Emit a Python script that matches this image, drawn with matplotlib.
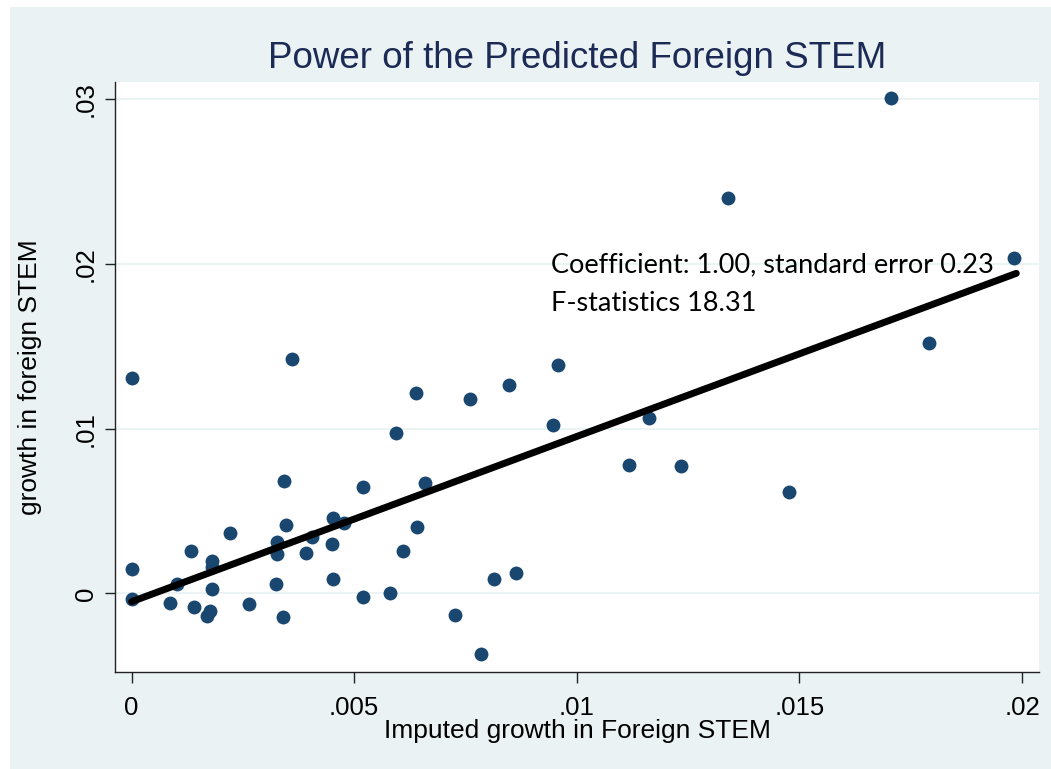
import matplotlib
matplotlib.use("Agg")
import matplotlib.pyplot as plt
from matplotlib.patches import Rectangle

# imputed growth (x) vs actual growth (y) in foreign STEM
imputed_growth = [
    0.0000, 0.0036, 0.0000, 0.0000, 0.00086, 0.00101, 0.00133, 0.0014,
    0.00176, 0.00169, 0.0018, 0.0018, 0.0018, 0.0022, 0.00264, 0.00326,
    0.00327, 0.00324, 0.00339, 0.00342, 0.00346, 0.00392, 0.00405, 0.00452,
    0.00476, 0.0045, 0.00453, 0.0052, 0.0052, 0.0058, 0.00594, 0.0061,
    0.00639, 0.00641, 0.00658, 0.00726, 0.00761, 0.00785, 0.00815, 0.00848,
    0.00864, 0.00946, 0.00957, 0.01161, 0.01118, 0.01234, 0.01477, 0.01791,
    0.01981, 0.0134, 0.01705,
]
foreign_growth = [
    0.01307, 0.01424, 0.00147, -0.00035, -0.00056, 0.00056, 0.0026, -0.0008,
    -0.00106, -0.00137, 0.00197, 0.0016, 0.00027, 0.00369, -0.00064, 0.00315,
    0.00238, 0.00056, -0.00145, 0.00683, 0.00416, 0.00244, 0.00345, 0.0046,
    0.00426, 0.003, 0.00086, 0.00647, -0.00019, 0.00003, 0.00976, 0.0026,
    0.01219, 0.00406, 0.00669, -0.0013, 0.01181, -0.00366, 0.00086, 0.01264,
    0.00126, 0.01023, 0.01387, 0.01064, 0.00778, 0.00774, 0.00618, 0.01519,
    0.02039, 0.02401, 0.03007,
]

# fitted line endpoints
fit_x = [0.0, 0.01987]
fit_y = [-0.0005, 0.01944]

x_ticks = [0, 0.005, 0.01, 0.015, 0.02]
x_labels = ["0", ".005", ".01", ".015", ".02"]
y_ticks = [0, 0.01, 0.02, 0.03]
y_labels = ["0", ".01", ".02", ".03"]

title = "Power of the Predicted Foreign STEM"
note_lines = ["Coefficient: 1.00, standard error 0.23", "F-statistics 18.31"]

bg = "#EAF2F3"
navy = "#1A476F"

plt.rcParams["font.family"] = ["Liberation Sans", "DejaVu Sans"]

fig = plt.figure(figsize=(10.51, 7.69), dpi=100, facecolor="white")
# graph region background (thin white margin top/left like the original)
fig.patches.append(Rectangle((10 / 1051, 0), 1, 1 - 7 / 769,
                             transform=fig.transFigure, facecolor=bg,
                             edgecolor="none", zorder=-10))

ax = fig.add_axes([115 / 1051, 97 / 769, 924 / 1051, 590 / 769])
ax.set_facecolor("white")

ax.scatter(imputed_growth, foreign_growth, s=100, color=navy, zorder=3,
           linewidths=0)
ax.plot(fit_x, fit_y, color="black", lw=5, solid_capstyle="round", zorder=4)

ax.set_xlim(-0.000373, 0.02038)
ax.set_ylim(-0.00477, 0.03106)

ax.set_xticks(x_ticks)
ax.set_xticklabels(x_labels)
ax.set_yticks(y_ticks)
ax.set_yticklabels(y_labels, rotation=90, va="center")

ax.grid(axis="y", color=bg, lw=1.3, zorder=0)
ax.set_axisbelow(True)

for side in ["top", "right"]:
    ax.spines[side].set_visible(False)
for side in ["left", "bottom"]:
    ax.spines[side].set_color("#222222")
    ax.spines[side].set_linewidth(1.0)

ax.tick_params(axis="x", length=8, width=1, color="#222222", pad=9,
               labelsize=18.5)
ax.tick_params(axis="y", length=7.5, width=1, color="#222222", pad=5,
               labelsize=18.5)

ax.set_xlabel("Imputed growth in Foreign STEM", fontsize=19)
ax.xaxis.set_label_coords(0.5, -0.1)
ax.xaxis.label.set_va("center")
ax.set_ylabel("growth in foreign STEM", fontsize=19)
ax.yaxis.set_label_coords(-0.092, 0.5)
ax.yaxis.label.set_va("center")

ax.set_title(title, fontsize=26.5, color="#1C2B55", pad=10)

ax.text(0.00942, 0.01952, note_lines[0], family=["Lato", "DejaVu Sans"],
        fontsize=19.5, va="baseline", zorder=5)
ax.text(0.00942, 0.01715, note_lines[1], family=["Lato", "DejaVu Sans"],
        fontsize=19.5, va="baseline", zorder=5)

fig.savefig("out.png", dpi=100, facecolor="white")
